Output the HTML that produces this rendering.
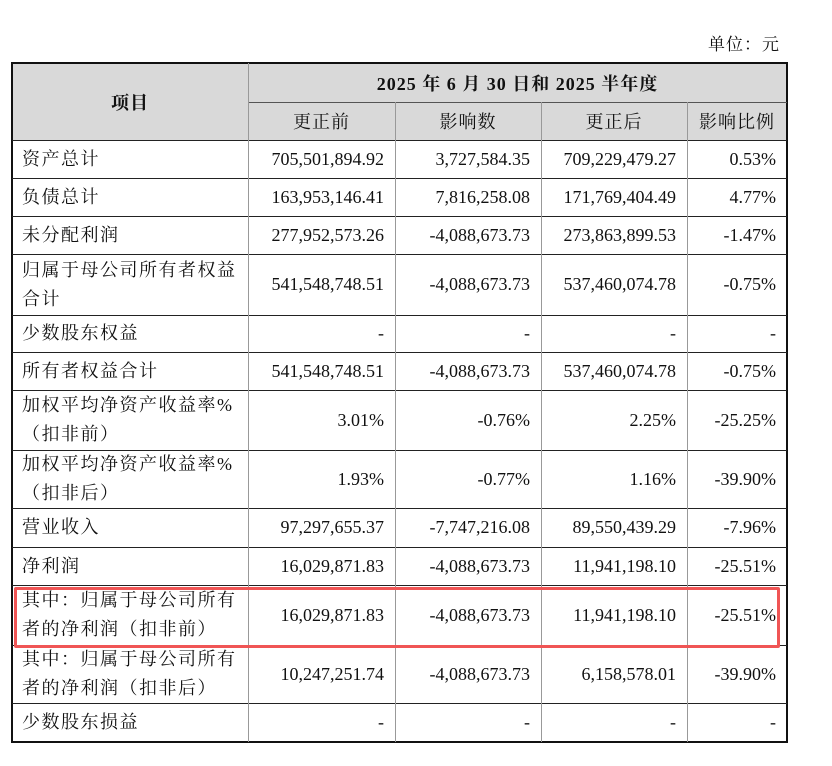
<!DOCTYPE html>
<html><head><meta charset="utf-8"><style>
body{margin:0;width:832px;height:766px;background:#fff;position:relative;font-family:"Liberation Serif","Noto Serif CJK SC",serif;color:#111;overflow:hidden}
.c{position:absolute;box-sizing:border-box;display:flex;align-items:center;font-size:18px;white-space:nowrap}
.l{padding-left:10px;letter-spacing:1.5px;line-height:29px;white-space:normal}
.r{justify-content:flex-end;padding-right:11px}
.m{justify-content:center;letter-spacing:1px}
.h{position:absolute;height:1px;background:#222}
.v{position:absolute;width:1px;background:#999}
</style></head><body>
<div class="c" style="left:708px;top:30px;font-size:17px;letter-spacing:1px">单位：元</div>
<div style="position:absolute;left:12px;top:63px;width:775px;height:77px;background:#d9d9d9"></div>
<div style="position:absolute;left:11px;top:62px;width:777px;height:681px;border:2px solid #111;box-sizing:border-box"></div>
<div id="g"></div>
<script>
var rows=[140,178,216,254,315,352,390,450,508,547,585,645,703];
var cols=[248,395,541,687];
var out='';
rows.forEach(function(y){out+='<div class="h" style="left:12px;width:775px;top:'+y+'px"></div>';});
out+='<div class="h" style="left:248px;width:539px;top:102px;background:#555"></div>';
cols.forEach(function(x,i){var t=i==0?63:102;out+='<div class="v" style="left:'+x+'px;top:'+t+'px;height:'+(742-t)+'px"></div>';});
var data=[
["资产总计","705,501,894.92","3,727,584.35","709,229,479.27","0.53%"],
["负债总计","163,953,146.41","7,816,258.08","171,769,404.49","4.77%"],
["未分配利润","277,952,573.26","-4,088,673.73","273,863,899.53","-1.47%"],
["归属于母公司所有者权益合计","541,548,748.51","-4,088,673.73","537,460,074.78","-0.75%"],
["少数股东权益","-","-","-","-"],
["所有者权益合计","541,548,748.51","-4,088,673.73","537,460,074.78","-0.75%"],
["加权平均净资产收益率%（扣非前）","3.01%","-0.76%","2.25%","-25.25%"],
["加权平均净资产收益率%（扣非后）","1.93%","-0.77%","1.16%","-39.90%"],
["营业收入","97,297,655.37","-7,747,216.08","89,550,439.29","-7.96%"],
["净利润","16,029,871.83","-4,088,673.73","11,941,198.10","-25.51%"],
["其中：归属于母公司所有者的净利润（扣非前）","16,029,871.83","-4,088,673.73","11,941,198.10","-25.51%"],
["其中：归属于母公司所有者的净利润（扣非后）","10,247,251.74","-4,088,673.73","6,158,578.01","-39.90%"],
["少数股东损益","-","-","-","-"]];
var xs=[12,248,395,541,687,787];
var ys=rows.concat([742]);
data.forEach(function(r,i){
 for(var j=0;j<5;j++){
  var cls=j==0?'l':'r';var w=xs[j+1]-xs[j];
  if(j==0)w=236;
  out+='<div class="c '+cls+'" style="left:'+xs[j]+'px;top:'+ys[i]+'px;width:'+w+'px;height:'+(ys[i+1]-ys[i])+'px">'+r[j]+'</div>';
 }
});
out+='<div class="c m" style="left:12px;top:63px;width:236px;height:77px;font-weight:bold">项目</div>';
out+='<div class="c m" style="left:248px;top:63px;width:539px;height:39px;font-weight:bold">2025 年 6 月 30 日和 2025 半年度</div>';
var hs=["更正前","影响数","更正后","影响比例"];
for(var k=0;k<4;k++)out+='<div class="c m" style="left:'+xs[k+1]+'px;top:102px;width:'+(xs[k+2]-xs[k+1])+'px;height:38px">'+hs[k]+'</div>';
out+='<div style="position:absolute;left:14px;top:587px;width:766px;height:61px;border:3px solid #f05555;border-radius:2px;box-sizing:border-box"></div>';
document.getElementById('g').innerHTML=out;
</script>
</body></html>
